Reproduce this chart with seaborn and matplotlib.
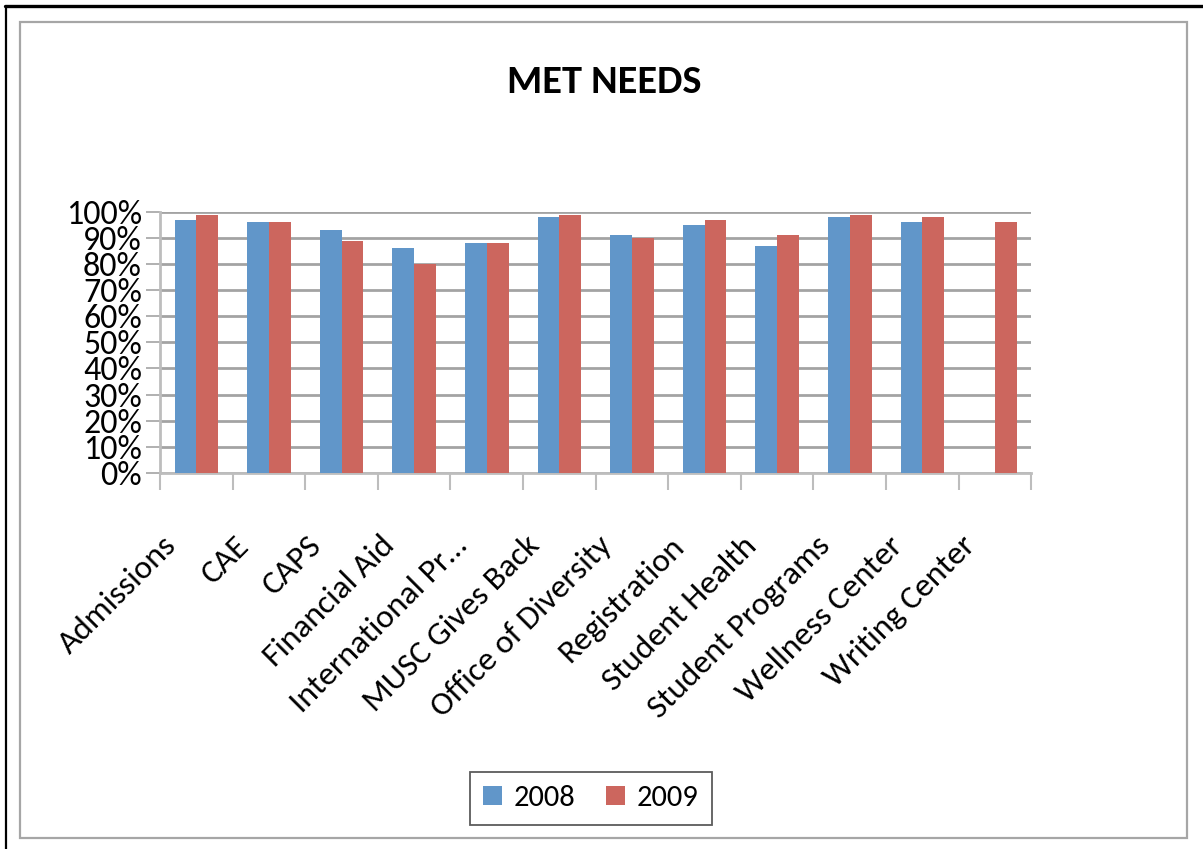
import numpy as np
import pandas as pd
import matplotlib
matplotlib.use("Agg")
import matplotlib.pyplot as plt
from matplotlib.ticker import PercentFormatter, FixedLocator
from matplotlib.transforms import ScaledTranslation
from matplotlib.patches import Rectangle
from matplotlib.lines import Line2D
import seaborn as sns

# Survey results: share of respondents whose needs were met, by office
categories = ["Admissions", "CAE", "CAPS", "Financial Aid", "International Pr\u2026",
              "MUSC Gives Back", "Office of Diversity", "Registration",
              "Student Health", "Student Programs", "Wellness Center", "Writing Center"]
years = ["2008", "2009"]
met_2008 = [97, 96, 93, 86, 88, 98, 91, 95, 87, 98, 96, np.nan]
met_2009 = [99, 96, 89, 80, 88, 99, 90, 97, 91, 99, 98, 96]
colors = ["#6196C9", "#CC665E"]

df = pd.DataFrame({
    "office": categories * 2,
    "year": [years[0]] * len(categories) + [years[1]] * len(categories),
    "met": [v / 100 for v in met_2008] + [v / 100 for v in met_2009],
})

sns.set_style("white")
plt.rcParams["font.family"] = ["Carlito", "Lato", "DejaVu Sans"]
plt.rcParams["text.color"] = "black"

fig = plt.figure(figsize=(12.03, 8.49), dpi=100)
ax = fig.add_axes([0.133, 0.4432, 0.7243, 0.3071])

sns.barplot(data=df, x="office", y="met", hue="year", order=categories,
            hue_order=years, palette=colors, width=0.6, errorbar=None,
            saturation=1, ax=ax, legend=False, zorder=3, linewidth=0)

ax.set_xlim(-0.5, len(categories) - 0.5)
ax.set_ylim(0, 1)
ax.set_xlabel("")
ax.set_ylabel("")

grid_col = "#A3A3A3"
ax.set_yticks(np.arange(0, 1.01, 0.1))
ax.yaxis.set_major_formatter(PercentFormatter(1.0, decimals=0))
ax.yaxis.grid(True, color=grid_col, linewidth=2, zorder=0)
ax.set_axisbelow(True)
ax.tick_params(axis="y", length=10, width=1.2, color=grid_col, pad=3,
               labelsize=24.5, labelcolor="black", left=True)

# category separators on the x axis
ax.xaxis.set_minor_locator(FixedLocator(np.arange(-0.5, len(categories), 1.0)))
ax.tick_params(axis="x", which="minor", length=12, width=1.5, color="#BDBDBD", bottom=True)
ax.tick_params(axis="x", which="major", length=0, pad=42, labelsize=24, labelcolor="black")
ax.set_xticks(range(len(categories)))
ax.set_xticklabels(categories, rotation=45, ha="right", va="top")
shift = ScaledTranslation(-0.15, 0, fig.dpi_scale_trans)
for lab in ax.get_xticklabels():
    lab.set_transform(lab.get_transform() + shift)

for side in ("top", "right"):
    ax.spines[side].set_visible(False)
for side in ("left", "bottom"):
    ax.spines[side].set_color("#BDBDBD")
    ax.spines[side].set_linewidth(2)

fig.text(0.502, 0.903, "MET NEEDS", ha="center", va="center",
         fontsize=29, fontweight="bold")

handles = [Rectangle((0, 0), 1, 1, facecolor=c, edgecolor="none") for c in colors]
leg = fig.legend(handles, years, loc="center", bbox_to_anchor=(0.4913, 0.0595),
                 ncol=2, fontsize=22, frameon=True, fancybox=False,
                 handlelength=0.6, handleheight=0.6, handletextpad=0.4,
                 columnspacing=1.0, borderpad=0.45, borderaxespad=0)
leg.get_frame().set_edgecolor("#333333")
leg.get_frame().set_linewidth(1.3)

# chart border and page frame
fig.patches.append(Rectangle((0.0166, 0.0130), 0.9701, 0.9611, transform=fig.transFigure,
                             fill=False, edgecolor="#A6A6A6", linewidth=1.6))
fig.lines.append(Line2D([0.0045, 1.0], [0.9935, 0.9935], transform=fig.transFigure,
                        color="black", linewidth=2.4))
fig.lines.append(Line2D([0.0053, 0.0053], [0.0, 0.9935], transform=fig.transFigure,
                        color="black", linewidth=1.6))

fig.savefig("out.png", dpi=100)
